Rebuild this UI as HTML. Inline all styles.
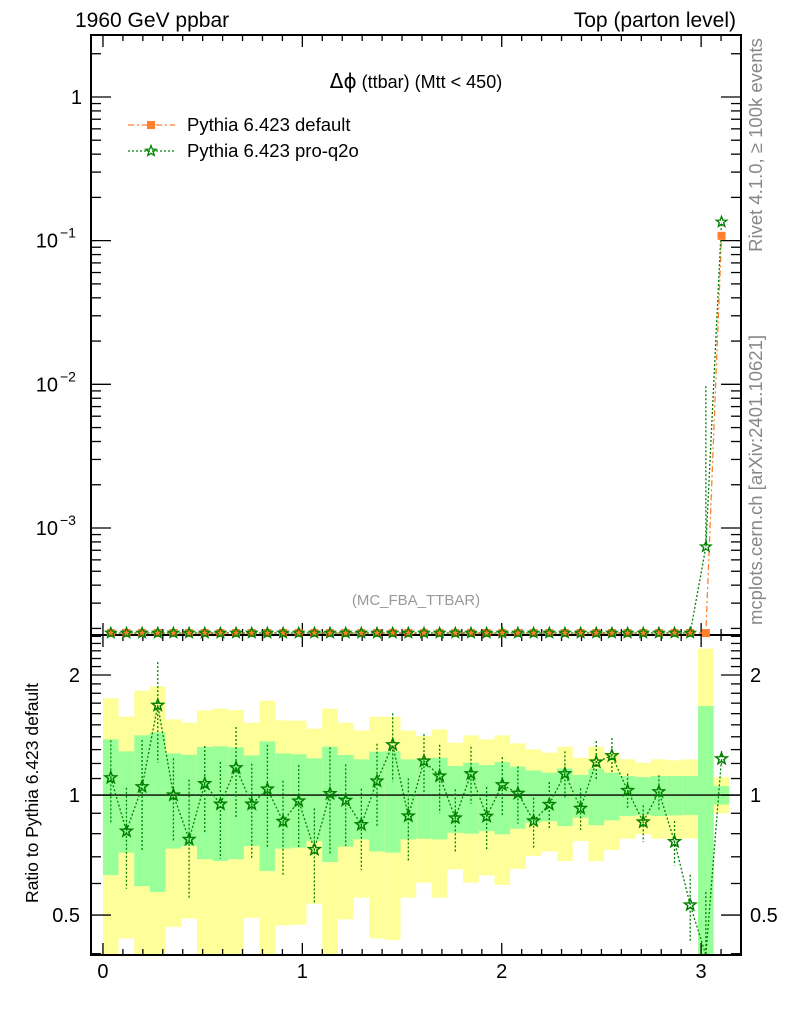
<!DOCTYPE html>
<html><head><meta charset="utf-8"><style>
body{margin:0;background:#fff;}
svg{display:block;font-family:"Liberation Sans",Arial,sans-serif;}
</style></head><body>
<svg id="chart" width="786" height="1024" xmlns="http://www.w3.org/2000/svg">
<g id="bands"></g>
<g id="grid"></g>
<g id="series"></g>
<text x="75" y="27" font-size="21">1960 GeV ppbar</text>
<text x="736" y="27" font-size="21" text-anchor="end">Top (parton level)</text>
<text x="416" y="88" font-size="18" text-anchor="middle"><tspan font-family="DejaVu Sans" font-size="20">Δϕ</tspan> (ttbar) (Mtt &lt; 450)</text>
<text x="416" y="605" font-size="15" fill="#999" text-anchor="middle">(MC_FBA_TTBAR)</text>
<g>
<g>
<line x1="128" y1="125" x2="175" y2="125" stroke="#ff7f2a" stroke-width="1.3" stroke-dasharray="6,3,2,3"/>
<rect x="147" y="121" width="8" height="8" fill="#ff7f2a"/>
<text x="187" y="131" font-size="18.5">Pythia 6.423 default</text></g>
<g>
<line x1="128" y1="151" x2="175" y2="151" stroke="#008000" stroke-width="1.3" stroke-dasharray="2,2"/>
<path id="legstar" d="" fill="none" stroke="#008000" stroke-width="1.3"/>
<text x="187" y="157" font-size="18.5">Pythia 6.423 pro-q2o</text></g>
</g>
<text transform="translate(762,145) rotate(-90)" font-size="18.5" fill="#888" text-anchor="middle">Rivet 4.1.0, ≥ 100k events</text>
<text transform="translate(762,480) rotate(-90)" font-size="18.5" fill="#888" text-anchor="middle">mcplots.cern.ch [arXiv:2401.10621]</text>
<text transform="translate(38,793) rotate(-90)" font-size="17.5" text-anchor="middle">Ratio to Pythia 6.423 default</text>
</svg>
<script>
// ---- data ----
const nBins = 40;
const mainDefault = [1e-5,1e-5,1e-5,1e-5,1e-5,1e-5,1e-5,1e-5,1e-5,1e-5,1e-5,1e-5,1e-5,1e-5,1e-5,1e-5,1e-5,1e-5,1e-5,1e-5,1e-5,1e-5,1e-5,1e-5,1e-5,1e-5,1e-5,1e-5,1e-5,1e-5,1e-5,1e-5,1e-5,1e-5,1e-5,1e-5,1e-5,1e-5,1e-5,0.108];
const mainProQ2o = [1e-5,1e-5,1e-5,1e-5,1e-5,1e-5,1e-5,1e-5,1e-5,1e-5,1e-5,1e-5,1e-5,1e-5,1e-5,1e-5,1e-5,1e-5,1e-5,1e-5,1e-5,1e-5,1e-5,1e-5,1e-5,1e-5,1e-5,1e-5,1e-5,1e-5,1e-5,1e-5,1e-5,1e-5,1e-5,1e-5,1e-5,1e-5,7.4e-4,0.135];
const mainProQ2oErrUp = [1e-5,1e-5,1e-5,1e-5,1e-5,1e-5,1e-5,1e-5,1e-5,1e-5,1e-5,1e-5,1e-5,1e-5,1e-5,1e-5,1e-5,1e-5,1e-5,1e-5,1e-5,1e-5,1e-5,1e-5,1e-5,1e-5,1e-5,1e-5,1e-5,1e-5,1e-5,1e-5,1e-5,1e-5,1e-5,1e-5,1e-5,1e-5,0.0097,0.137];
const ratio = [1.105,0.812,1.049,1.68,1.0,0.774,1.068,0.949,1.171,0.949,1.035,0.859,0.966,0.73,1.008,0.97,0.843,1.084,1.337,0.886,1.217,1.116,0.876,1.131,0.884,1.061,1.01,0.861,0.947,1.131,0.926,1.21,1.255,1.027,0.856,1.019,0.764,0.53,0.3,1.233];
const ratioHi = [1.371,1.043,1.374,2.155,1.236,1.093,1.327,1.21,1.481,1.198,1.337,1.086,1.189,0.926,1.317,1.194,1.037,1.345,1.603,1.101,1.422,1.337,1.033,1.322,1.047,1.245,1.18,0.985,1.078,1.287,1.039,1.366,1.39,1.131,0.942,1.12,0.861,0.631,0.571,1.289];
const ratioLo = [0.849,0.582,0.728,1.205,0.765,0.553,0.804,0.692,0.872,0.695,0.734,0.631,0.741,0.535,0.71,0.745,0.649,0.828,1.08,0.678,1.01,0.9,0.722,0.951,0.725,0.886,0.847,0.735,0.82,0.979,0.817,1.084,1.131,0.929,0.762,0.91,0.666,0.426,0.2,1.194];
const yellowHi = [1.75,1.572,1.827,1.873,1.548,1.518,1.63,1.646,1.634,1.518,1.724,1.539,1.536,1.467,1.646,1.518,1.452,1.572,1.572,1.452,1.406,1.461,1.353,1.411,1.379,1.411,1.348,1.302,1.277,1.322,1.24,1.322,1.277,1.229,1.205,1.229,1.222,1.229,2.33,1.109];
const greenHi = [1.379,1.287,1.412,1.436,1.272,1.262,1.32,1.325,1.317,1.257,1.363,1.272,1.265,1.236,1.322,1.26,1.229,1.285,1.287,1.229,1.229,1.24,1.182,1.205,1.189,1.21,1.178,1.153,1.138,1.166,1.123,1.164,1.138,1.116,1.109,1.116,1.116,1.116,1.672,1.053];
const greenLo = [0.63,0.717,0.591,0.571,0.734,0.745,0.69,0.683,0.69,0.745,0.645,0.734,0.738,0.767,0.679,0.742,0.774,0.722,0.717,0.774,0.777,0.774,0.804,0.8,0.812,0.797,0.823,0.852,0.86,0.836,0.877,0.84,0.864,0.886,0.891,0.886,0.889,0.891,0.2,0.947];
const yellowLo = [0.3,0.437,0.3,0.3,0.467,0.49,0.3,0.3,0.3,0.492,0.3,0.471,0.473,0.534,0.3,0.488,0.553,0.437,0.433,0.553,0.603,0.553,0.651,0.603,0.629,0.595,0.653,0.703,0.722,0.683,0.767,0.683,0.728,0.777,0.797,0.777,0.778,0.778,0.2,0.9];
const xTicks = [0,1,2,3];
const mainTicks = [0.001,0.01,0.1,1];
const mainTickLabels = ["10","10","10","1"];
const mainTickExp = ["−3","−2","−1",""];
const ratioTicks = [0.5,1,2];
const ratioTickLabels = ["0.5","1","2"];

// ---- axes ----
const L=91,R=741,T=35,MB=635,RB=955;
const xMin=-0.06, xMax=3.2;
const X=v=>L+(v-xMin)/(xMax-xMin)*(R-L);
const lmMin=Math.log10(1.8e-4), lmMax=Math.log10(2.7);
const YM=v=>{let y=MB-(Math.log10(v)-lmMin)/(lmMax-lmMin)*(MB-T);return Math.min(MB-2,y);};
const lrMin=Math.log10(0.397), lrMax=Math.log10(2.52);
const YR=v=>{let y=RB-(Math.log10(Math.max(v,0.2))-lrMin)/(lrMax-lrMin)*(RB-MB);return y;};
const YRc=v=>Math.max(MB,Math.min(RB,YR(v)));
const bw=Math.PI/nBins;
const NS="http://www.w3.org/2000/svg";
function mk(tag,attrs,parent){const e=document.createElementNS(NS,tag);for(const k in attrs)e.setAttribute(k,attrs[k]);parent.appendChild(e);return e;}
function star(cx,cy,r){let d="";for(let i=0;i<10;i++){const a=-Math.PI/2+i*Math.PI/5;const rr=i%2?r*0.42:r;d+=(i?"L":"M")+(cx+rr*Math.cos(a)).toFixed(1)+","+(cy+rr*Math.sin(a)).toFixed(1);}return d+"Z";}
document.getElementById('legstar').setAttribute('d',star(151,151,5.5));

const bands=document.getElementById('bands'), grid=document.getElementById('grid'), ser=document.getElementById('series');
for(let i=0;i<nBins;i++){
  const x0=X(i*bw), x1=X((i+1)*bw);
  const y=mk('rect',{x:x0,y:YRc(yellowHi[i]),width:x1-x0,height:YRc(yellowLo[i])-YRc(yellowHi[i]),fill:'#ffff99'},bands);
  
  
  const g=mk('rect',{x:x0,y:YRc(greenHi[i]),width:x1-x0,height:YRc(greenLo[i])-YRc(greenHi[i]),fill:'#99ff99'},bands);
  
  
}
mk('rect',{x:L,y:T,width:R-L,height:MB-T,fill:'none',stroke:'#000','stroke-width':2},grid);
mk('rect',{x:L,y:MB,width:R-L,height:RB-MB,fill:'none',stroke:'#000','stroke-width':2},grid);
mk('line',{x1:L,y1:YR(1),x2:R,y2:YR(1),stroke:'#000','stroke-width':1.3},grid);
for(let v=0;v<=3.2;v+=0.1){
  const vv=Math.round(v*10)/10, major=Math.abs(vv-Math.round(vv))<1e-6, x=X(vv);
  const len=major?12:6;
  for(const [yb,dir] of [[T,1],[MB,-1],[MB,1],[RB,-1]]) mk('line',{x1:x,y1:yb,x2:x,y2:yb+dir*len,stroke:'#000','stroke-width':1.3},grid);
}
xTicks.forEach(v=>{const t=mk('text',{x:X(v),y:978,'font-size':20,'text-anchor':'middle'},grid);t.textContent=v;

});
for(let e=-4;e<=0;e++)for(let m=1;m<=9;m++){const v=m*Math.pow(10,e);const y=MB-(Math.log10(v)-lmMin)/(lmMax-lmMin)*(MB-T);if(y<T||y>MB)continue;
  const len=m==1?20:10;mk('line',{x1:L,y1:y,x2:L+len,y2:y,stroke:'#000','stroke-width':1.3},grid);mk('line',{x1:R,y1:y,x2:R-len,y2:y,stroke:'#000','stroke-width':1.3},grid);}
mainTicks.forEach((v,i)=>{const y=YM(v);const t=mk('text',{x:mainTickExp[i]?58:82,y:y+7,'font-size':20,'text-anchor':'end'},grid);
  t.textContent=mainTickLabels[i];
  
  
  if(mainTickExp[i]){const s=mk('text',{x:60,y:y-3,'font-size':14},grid);s.textContent=mainTickExp[i];}});
for(let k=4;k<=25;k++){const v=k/10;const y=YR(v);if(y<MB||y>RB)continue;const major=(k==5||k==10||k==20);const len=major?20:10;
  mk('line',{x1:L,y1:y,x2:L+len,y2:y,stroke:'#000','stroke-width':1.3},grid);mk('line',{x1:R,y1:y,x2:R-len,y2:y,stroke:'#000','stroke-width':1.3},grid);}
ratioTicks.forEach((v,i)=>{const y=YR(v)+7;
  const a=mk('text',{x:80,y:y,'font-size':20,'text-anchor':'end'},grid);a.textContent=ratioTickLabels[i];
  
  
  const b=mk('text',{x:750,y:y,'font-size':20},grid);b.textContent=ratioTickLabels[i];});

const cx=i=>X((i+0.5)*bw);
let dO="",dG="";
for(let i=0;i<nBins;i++){dO+=(i?"L":"M")+cx(i)+","+YM(mainDefault[i]);dG+=(i?"L":"M")+cx(i)+","+YM(mainProQ2o[i]);}
mk('path',{d:dO,fill:'none',stroke:'#ff7f2a','stroke-width':1.3,'stroke-dasharray':'6,3,2,3'},ser);
mk('path',{d:dG,fill:'none',stroke:'#008000','stroke-width':1.3,'stroke-dasharray':'2,2'},ser);
for(let i=0;i<nBins;i++){
  if(mainProQ2oErrUp[i]>mainProQ2o[i]*1.05){mk('line',{x1:cx(i),y1:YM(mainProQ2oErrUp[i]),x2:cx(i),y2:YM(mainProQ2o[i]),stroke:'#008000','stroke-width':1.3,'stroke-dasharray':'2,2'},ser);}
  const r=mk('rect',{x:cx(i)-4,y:YM(mainDefault[i])-4,width:8,height:8,fill:'#ff7f2a'},ser);
  
  
  const s=mk('path',{d:star(cx(i),YM(mainProQ2o[i]),5.5),fill:'none',stroke:'#008000','stroke-width':1.3},ser);
  
  
}
let dR="";
for(let i=0;i<nBins;i++){dR+=(i?"L":"M")+cx(i)+","+YRc(ratio[i]);}
mk('path',{d:dR,fill:'none',stroke:'#008000','stroke-width':1.3,'stroke-dasharray':'2,2'},ser);
for(let i=0;i<nBins;i++){
  mk('line',{x1:cx(i),y1:YRc(ratioHi[i]),x2:cx(i),y2:YRc(ratioLo[i]),stroke:'#008000','stroke-width':1.3,'stroke-dasharray':'2,2'},ser);
  if(ratio[i]>0.4){const s=mk('path',{d:star(cx(i),YR(ratio[i]),6),fill:'none',stroke:'#008000','stroke-width':1.5},ser);
  
  }
}
</script>
</body></html>
